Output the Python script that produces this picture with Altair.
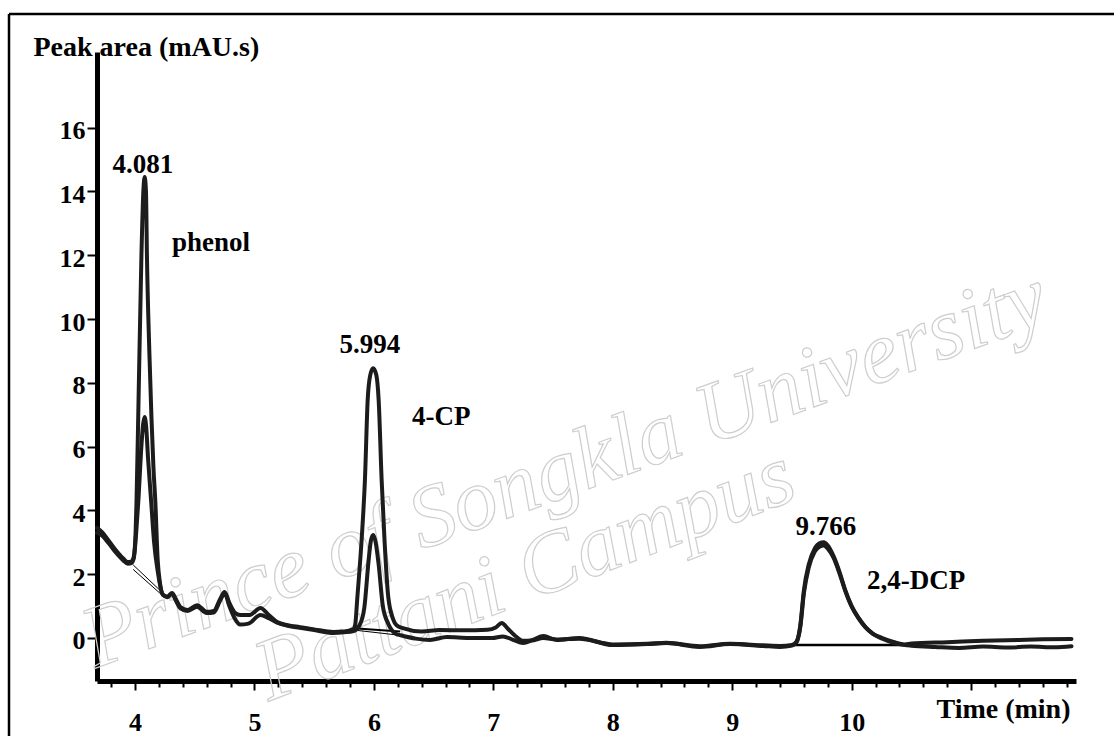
import altair as alt
import pandas as pd

# ---- chromatogram data: retention time (min) vs signal, two overlaid runs ----
time_a = [3.682, 3.72, 3.78, 3.84, 3.90, 3.94, 3.97, 3.99, 4.005, 4.013, 4.03, 4.054, 4.07, 4.081,
          4.092, 4.10, 4.12, 4.138, 4.155, 4.17, 4.19, 4.21, 4.235, 4.27, 4.31, 4.345, 4.38, 4.44,
          4.52, 4.60, 4.66, 4.71, 4.75, 4.79, 4.84, 4.88, 4.96, 5.05, 5.12, 5.19, 5.28, 5.38, 5.50,
          5.66, 5.75, 5.83, 5.845, 5.86, 5.90, 5.925, 5.948, 5.97, 5.994, 6.02, 6.04, 6.065, 6.09,
          6.12, 6.16, 6.19, 6.25, 6.40, 6.55, 6.75, 6.95, 7.02, 7.07, 7.12, 7.18, 7.25, 7.32, 7.42,
          7.53, 7.72, 8.00, 8.29, 8.45, 8.73, 8.98, 9.26, 9.40, 9.50, 9.54, 9.57, 9.60, 9.64, 9.69,
          9.73, 9.766, 9.80, 9.85, 9.90, 9.946, 10.00, 10.06, 10.116, 10.18, 10.256, 10.35, 10.446,
          10.50, 10.80, 11.10, 11.40, 11.60, 11.84]
signal_a = [3.45, 3.33, 3.05, 2.75, 2.50, 2.38, 2.40, 2.55, 3.30, 4.30, 7.50, 12.0, 14.0, 14.45,
            14.0, 12.0, 9.0, 6.9, 5.3, 4.3, 2.45, 1.70, 1.35, 1.30, 1.41, 1.20, 0.97, 0.88,
            1.03, 0.82, 0.85, 1.20, 1.44, 1.10, 0.78, 0.72, 0.72, 0.94, 0.72, 0.50, 0.40, 0.34, 0.27,
            0.19, 0.20, 0.28, 0.45, 1.19, 3.23, 4.95, 7.46, 8.25, 8.46, 8.25, 7.46, 4.95, 3.0,
            1.30, 0.60, 0.40, 0.30, 0.20, 0.25, 0.24, 0.26, 0.33, 0.47, 0.30, 0.08, -0.09, -0.08, 0.0,
            -0.05, -0.02, -0.20, -0.18, -0.15, -0.26, -0.18, -0.23, -0.25, -0.22, -0.10, 0.40, 1.50, 2.30, 2.80,
            2.97, 3.00, 2.90, 2.55, 2.05, 1.50, 1.00, 0.62, 0.34, 0.13, 0.0, -0.12, -0.20,
            -0.17, -0.13, -0.09, -0.06, -0.04, -0.03]

time_b = [3.682, 3.72, 3.78, 3.84, 3.90, 3.94, 3.97, 3.99, 4.01, 4.03, 4.05, 4.068, 4.081, 4.094,
          4.11, 4.135, 4.16, 4.19, 4.235, 4.27, 4.31, 4.345, 4.38, 4.44, 4.52, 4.60, 4.66, 4.71,
          4.75, 4.79, 4.84, 4.88, 4.95, 5.05, 5.12, 5.19, 5.28, 5.38, 5.50, 5.66, 5.75, 5.83, 5.88,
          5.92, 5.955, 5.975, 5.994, 6.015, 6.04, 6.075, 6.12, 6.19, 6.22, 6.35, 6.47, 6.61, 6.80,
          6.99, 7.08, 7.16, 7.25, 7.33, 7.42, 7.53, 7.72, 8.00, 8.29, 8.45, 8.73, 8.98, 9.26, 9.40,
          9.50, 9.54, 9.57, 9.60, 9.64, 9.69, 9.73, 9.766, 9.80, 9.85, 9.90, 9.946, 10.00, 10.06,
          10.116, 10.18, 10.256, 10.35, 10.446, 10.50, 10.70, 10.90, 11.10, 11.30, 11.50, 11.70, 11.84]
signal_b = [3.30, 3.22, 2.97, 2.68, 2.44, 2.33, 2.35, 2.50, 3.30, 4.40, 5.80, 6.70, 6.93, 6.60,
            5.60, 4.30, 3.00, 2.10, 1.35, 1.28, 1.38, 1.15, 0.93, 0.85, 0.98, 0.78, 0.80, 1.15,
            1.40, 1.00, 0.58, 0.42, 0.45, 0.72, 0.62, 0.48, 0.38, 0.32, 0.25, 0.16, 0.18, 0.22, 0.40,
            0.95, 2.40, 3.05, 3.23, 3.00, 2.30, 1.00, 0.45, 0.12, 0.09, -0.02, -0.06, 0.03, 0.0,
            0.0, 0.05, -0.05, -0.16, -0.06, 0.06, -0.06, 0.0, -0.22, -0.19, -0.16, -0.28, -0.19, -0.25, -0.28,
            -0.24, -0.12, 0.35, 1.40, 2.20, 2.70, 2.86, 2.90, 2.80, 2.50, 2.00, 1.48, 0.98, 0.60,
            0.33, 0.12, -0.02, -0.15, -0.22, -0.24, -0.28, -0.31, -0.27, -0.30, -0.27, -0.29, -0.26]

# integration baselines drawn under each peak
base_x1 = [3.985, 3.985, 5.86, 5.83, 9.50]
base_y1 = [2.29, 2.15, 0.30, 0.25, -0.22]
base_x2 = [4.25, 4.24, 6.22, 6.23, 10.446]
base_y2 = [1.35, 1.30, 0.20, 0.08, -0.22]
base_w = [1.0, 1.0, 2.0, 1.0, 2.5]

# peak annotations
peak_times = ["4.081", "5.994", "9.766"]
peak_tx = [4.067, 5.967, 9.785]
peak_ty = [14.58, 8.93, 3.23]
names = ["phenol", "4-CP", "2,4-DCP"]
name_x = [4.31, 6.319, 10.128]
name_y = [12.13, 6.68, 1.54]

# repository watermark lines
mark_text = ["Prince of Songkla University", "Pattani Campus"]
mark_x = [7.60, 7.265]
mark_y = [5.27, 1.97]
mark_angle = [340, 339]

y_ticks = [0, 2, 4, 6, 8, 10, 12, 14, 16]
# major ticks every minute, minor ticks every 0.2 min
x_major = [4, 5, 6, 7, 8, 9, 10, 11]
x_ticks = sorted(set(x_major) | {round(3.8 + 0.2 * i, 1) for i in range(41)})

FONT = "Liberation Serif"
INK = "#1c1c1c"
W, H = 979, 629

traces = pd.concat([
    pd.DataFrame({"t": time_a, "s": signal_a, "run": "A"}),
    pd.DataFrame({"t": time_b, "s": signal_b, "run": "B"}),
])
bases = pd.DataFrame({"x1": base_x1, "y1": base_y1, "x2": base_x2, "y2": base_y2, "w": base_w})
rt_labels = pd.DataFrame({"x": peak_tx, "y": peak_ty, "txt": peak_times})
name_labels = pd.DataFrame({"x": name_x, "y": name_y, "txt": names})
wm = pd.DataFrame({"x": mark_x, "y": mark_y, "txt": mark_text, "a": mark_angle})

x_scale = alt.Scale(domain=[3.682, 11.878], nice=False, zero=False)
y_scale = alt.Scale(domain=[-1.348, 18.37], nice=False, zero=False)

is_major = "abs(datum.value - round(datum.value)) < 0.001"
x_axis = alt.Axis(
    values=x_ticks,
    labelExpr=f"({is_major} && datum.value <= 10) ? format(datum.value, '.0f') : ''",
    tickSize={"condition": {"test": is_major, "value": 9}, "value": 6},
    tickWidth=2, tickColor="black",
    domainWidth=5, domainColor="black",
    labelFont=FONT, labelFontSize=26, labelFontWeight="bold", labelColor="black",
    labelPadding=19, labelBaseline="top", labelFlush=False, labelOverlap=False,
    title="Time (min)", titleFont=FONT, titleFontSize=28, titleFontWeight="bold",
    titleColor="black", titleAngle=0, titleX=973, titleY=36,
    titleAlign="right", titleBaseline="alphabetic",
    grid=False,
)
y_axis = alt.Axis(
    values=y_ticks, format="d",
    tickSize=10, tickWidth=2, tickColor="black",
    domainWidth=5, domainColor="black",
    labelFont=FONT, labelFontSize=26, labelFontWeight="bold", labelColor="black",
    labelPadding=2, labelOffset=3, labelFlush=False, labelOverlap=False,
    title="Peak area (mAU.s)", titleFont=FONT, titleFontSize=28, titleFontWeight="bold",
    titleColor="black", titleAngle=0, titleX=-64, titleY=3,
    titleAlign="left", titleBaseline="alphabetic",
    grid=False,
)

X = lambda f: alt.X(f, scale=x_scale, axis=x_axis)
Y = lambda f: alt.Y(f, scale=y_scale, axis=y_axis)

watermark = alt.Chart(wm).mark_text(
    font=FONT, fontSize=88, fontStyle="italic",
    fillOpacity=0, stroke="#cecece", strokeWidth=1.2,
    align="center", baseline="middle",
).encode(
    x=X("x:Q"), y=Y("y:Q"),
    text="txt:N",
    angle=alt.Angle("a:Q", scale=None),
)

baselines = alt.Chart(bases).mark_rule(color="black").encode(
    x=X("x1:Q"), y=Y("y1:Q"), x2="x2:Q", y2="y2:Q",
    strokeWidth=alt.StrokeWidth("w:Q", scale=None),
)

lines = alt.Chart(traces).mark_line(
    color=INK, strokeWidth=4, interpolate="monotone", strokeJoin="round", strokeCap="round"
).encode(
    x=X("t:Q"), y=Y("s:Q"), detail="run:N", order="t:Q",
)

rt_text = alt.Chart(rt_labels).mark_text(
    font=FONT, fontSize=27, fontWeight="bold", color="black",
    align="center", baseline="alphabetic",
).encode(x=X("x:Q"), y=Y("y:Q"), text="txt:N")

name_text = alt.Chart(name_labels).mark_text(
    font=FONT, fontSize=27, fontWeight="bold", color="black",
    align="left", baseline="alphabetic",
).encode(x=X("x:Q"), y=Y("y:Q"), text="txt:N")

# outer frame (top and left edges)
frame_top = alt.Chart(pd.DataFrame({"k": [0]})).mark_rule(color="black", strokeWidth=2.5).encode(
    x=alt.value(-88), x2=alt.value(1030), y=alt.value(-38)
)
frame_left = alt.Chart(pd.DataFrame({"k": [0]})).mark_rule(color="black", strokeWidth=2.5).encode(
    x=alt.value(-88), y=alt.value(-38), y2=alt.value(700)
)

chart = alt.layer(
    watermark, baselines, lines, rt_text, name_text, frame_top, frame_left
).properties(
    width=W, height=H,
    autosize=alt.AutoSizeParams(type="none"),
    padding={"left": 97, "top": 52, "right": 38, "bottom": 55},
    background="white",
).configure_view(strokeWidth=0).configure_axis(labelOverlap=False)

chart.save("out.html", embed_options={"renderer": "svg", "actions": False})
